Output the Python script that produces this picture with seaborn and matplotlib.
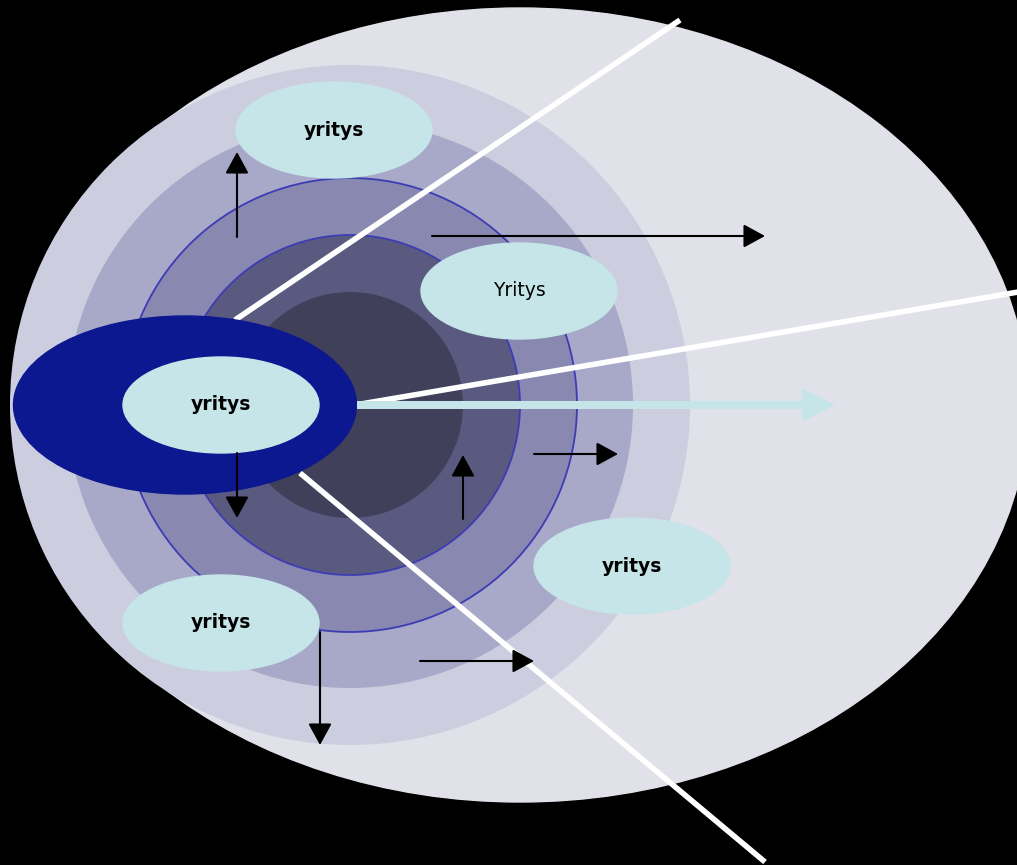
import seaborn as sns
import matplotlib.pyplot as plt
from matplotlib.patches import Ellipse, Circle

# Diagram values (pixel space, y grows downward)
ring_radii = [340, 283, 227, 170, 113]
ring_colors = ["#cdcde0", "#a8a8c8", "#8888b0", "#5a5a80", "#40405a"]
ring_edges = [None, None, "#3c3cb4", "#3c3cb4", None]

bubble_labels = ["yritys", "Yritys", "yritys", "yritys", "yritys"]
bubble_bold = [True, False, True, True, True]
bubble_x = [334, 519, 221, 632, 221]
bubble_y = [130, 291, 405, 566, 623]

# black arrows: start and end points
arrow_start = [(237, 237), (432, 236), (237, 453), (463, 519), (534, 454), (320, 632), (420, 661)]
arrow_end = [(237, 152), (765, 236), (237, 518), (463, 455), (618, 454), (320, 745), (534, 661)]

# white divider lines
line_start = [(235, 320), (355, 405), (300, 473)]
line_end = [(680, 20), (1030, 290), (765, 862)]

sns.set_style("white")
plt.rcParams["font.family"] = ["DejaVu Sans"]

fig = plt.figure(figsize=(10.17, 8.65), dpi=100, facecolor="black")
ax = fig.add_axes([0, 0, 1, 1])
ax.set_facecolor("black")
ax.set_xlim(0, 1017)
ax.set_ylim(865, 0)
ax.axis("off")

# outer oval
ax.add_patch(Ellipse((520, 405), 1016, 794, color="#e1e1ea", zorder=1))

# concentric rings
for r, c, e in zip(ring_radii, ring_colors, ring_edges):
    if e:
        ax.add_patch(Circle((350, 405), r, facecolor=c, edgecolor=e, lw=1.3, zorder=2))
    else:
        ax.add_patch(Circle((350, 405), r, facecolor=c, edgecolor="none", zorder=2))

# white lines
for (x0, y0), (x1, y1) in zip(line_start, line_end):
    ax.plot([x0, x1], [y0, y1], color="white", lw=4, solid_capstyle="butt", zorder=3)

# dark blue oval on the left
ax.add_patch(Ellipse((185, 405), 343, 178, color="#0c1890", zorder=4))

# light arrow
ax.arrow(357, 405, 478, 0, width=8, head_width=34, head_length=33,
         length_includes_head=True, color="#c5e5e8", lw=0, zorder=4)

# bubbles
for lab, b, x, y in zip(bubble_labels, bubble_bold, bubble_x, bubble_y):
    ax.add_patch(Ellipse((x, y), 196, 96, color="#c5e5e8", zorder=5))
    ax.text(x, y, lab, ha="center", va="center", fontsize=13.5,
            fontweight="bold" if b else "normal", color="black", zorder=6)

# black arrows
for s, e in zip(arrow_start, arrow_end):
    ax.annotate("", xy=e, xytext=s,
                arrowprops=dict(arrowstyle="-|>,head_length=0.55,head_width=0.3",
                                mutation_scale=24, lw=1.5,
                                color="black", shrinkA=0, shrinkB=0),
                zorder=7)

fig.savefig("out.png", dpi=100, facecolor="black")
